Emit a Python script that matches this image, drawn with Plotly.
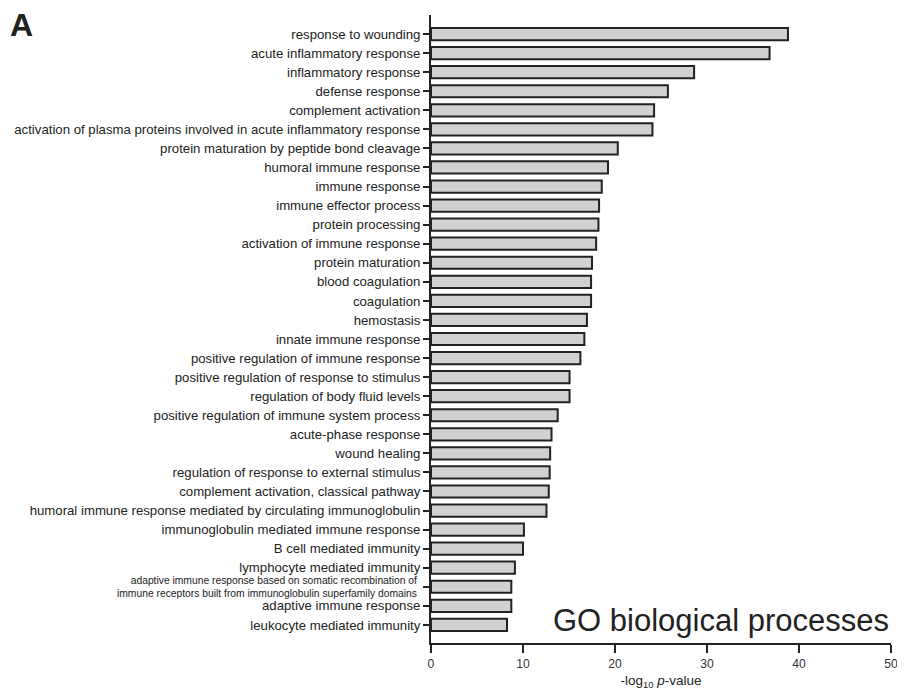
import plotly.graph_objects as go

terms = [
    "response to wounding",
    "acute inflammatory response",
    "inflammatory response",
    "defense response",
    "complement activation",
    "activation of plasma proteins involved in acute inflammatory response",
    "protein maturation by peptide bond cleavage",
    "humoral immune response",
    "immune response",
    "immune effector process",
    "protein processing",
    "activation of immune response",
    "protein maturation",
    "blood coagulation",
    "coagulation",
    "hemostasis",
    "innate immune response",
    "positive regulation of immune response",
    "positive regulation of response to stimulus",
    "regulation of body fluid levels",
    "positive regulation of immune system process",
    "acute-phase response",
    "wound healing",
    "regulation of response to external stimulus",
    "complement activation, classical pathway",
    "humoral immune response mediated by circulating immunoglobulin",
    "immunoglobulin mediated immune response",
    "B cell mediated immunity",
    "lymphocyte mediated immunity",
    "adaptive immune response based on somatic recombination of<br>immune receptors built from immunoglobulin superfamily domains",
    "adaptive immune response",
    "leukocyte mediated immunity",
]

neg_log_p = [38.8, 36.8, 28.6, 25.75, 24.25, 24.07, 20.3, 19.24, 18.56, 18.27,
             18.2, 17.95, 17.5, 17.4, 17.4, 16.95, 16.67, 16.24, 15.06, 15.06,
             13.77, 13.1, 12.95, 12.9, 12.8, 12.55, 10.1, 10.0, 9.12, 8.73,
             8.73, 8.26]

x_ticks = [0, 10, 20, 30, 40, 50]

idx = list(range(len(terms)))

# long two-line labels are drawn as small annotations instead of tick text
tick_text = ["" if "<br>" in t else t for t in terms]

# the page body has an 8px margin, so the figure is drawn 8px smaller
fig = go.Figure(go.Bar(
    x=neg_log_p,
    y=idx,
    orientation="h",
    width=0.64,
    marker=dict(color="#d1d1d3", line=dict(color="#222222", width=2)),
    showlegend=False,
))

L, R = 423, 14
PLOT_W = 897 - L - R

fig.update_layout(
    width=897, height=682,
    margin=dict(l=L, r=R, t=7, b=47),
    paper_bgcolor="white", plot_bgcolor="white",
    font=dict(family="Liberation Sans, Arial, sans-serif", size=13, color="#222222"),
    xaxis=dict(
        range=[0, 50], tickvals=x_ticks, ticks="outside", ticklen=8, tickwidth=2,
        tickcolor="#222222", showline=True, linewidth=2, linecolor="#222222",
        showgrid=False, zeroline=False, automargin=False, ticklabeloverflow="allow",
        tickfont=dict(size=12.2, color="#333333"),
        title=dict(text="-log<sub>10</sub> <i>p</i>-value", font=dict(size=13.5)),
    ),
    yaxis=dict(
        range=[31.95, -1.0], tickvals=idx, ticktext=tick_text, ticks="outside",
        ticklen=6, tickwidth=2, tickcolor="#222222", showline=True, linewidth=2,
        linecolor="#222222", showgrid=False, zeroline=False, automargin=False,
        tickfont=dict(size=13.2, color="#222222"),
    ),
)

annotations = [
    dict(text="<b>A</b>", xref="paper", yref="paper", x=-L / PLOT_W, y=1.0 + 10 / 628,
         xanchor="left", yanchor="top", showarrow=False,
         font=dict(size=32, color="#222222")),
    dict(text="GO biological processes", xref="x", yref="paper", x=50, y=0.005,
         xanchor="right", yanchor="bottom", showarrow=False,
         font=dict(size=31, color="#222222")),
]
for i, t in enumerate(terms):
    if "<br>" in t:
        annotations.append(dict(
            text=t, xref="paper", yref="y", x=-12 / PLOT_W, y=i,
            xanchor="right", yanchor="middle", align="right", showarrow=False,
            font=dict(size=10.3, color="#222222"),
        ))
fig.layout.annotations = annotations

fig.write_html("out.html")
